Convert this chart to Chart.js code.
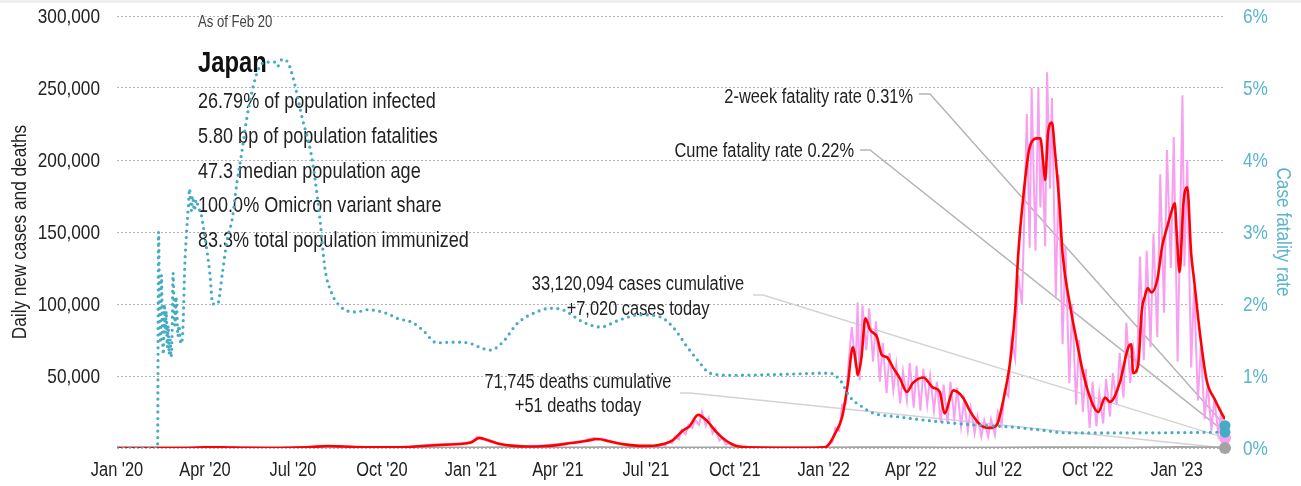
<!DOCTYPE html>
<html>
<head>
<meta charset="utf-8">
<script src="https://cdn.jsdelivr.net/npm/chart.js@4.4.1/dist/chart.umd.min.js"></script>
<style>
  html, body { margin: 0; padding: 0; background: #fff; }
  #wrap { width: 1301px; height: 486px; position: relative; }
</style>
</head>
<body>
<div id="wrap"><canvas id="covid" width="1301" height="486"></canvas></div>
<script>
// days are counted from Jan 1 2020
var lastDay = 1146;
var tickDays = [0, 91, 182, 274, 366, 456, 547, 639, 731, 821, 912, 1004, 1096];
var tickLabels = ["Jan '20", "Apr '20", "Jul '20", "Oct '20", "Jan '21", "Apr '21", "Jul '21", "Oct '21", "Jan '22", "Apr '22", "Jul '22", "Oct '22", "Jan '23"];
var caseTicks = [0, 50000, 100000, 150000, 200000, 250000, 300000];
var rateTicks = [0, 1, 2, 3, 4, 5, 6];

// daily reported cases
var dailyDays = [0, 60, 98, 110, 150, 200, 214, 221, 260, 300, 330, 355, 368, 372, 378, 384, 395, 425, 460, 480, 494, 497, 501, 525, 545, 560,
  563, 567, 570, 574, 577, 581, 584, 588, 591, 595, 598, 602, 605, 609, 612, 616, 619, 623, 626, 630, 633, 637, 644, 660, 700, 725, 730,
  733, 736, 740, 743, 747, 750, 754, 757, 760, 764, 766, 768, 771, 775, 778, 782, 785, 789, 792, 796, 799, 803, 806, 810, 813, 817, 820,
  824, 827, 831, 834, 838, 841, 845, 848, 852, 855, 859, 862, 866, 869, 873, 876, 880, 883, 887, 890, 894, 897, 901, 904, 908, 911,
  915, 918, 922, 925, 929, 932, 936, 939, 941, 944, 946, 950, 953, 955, 957, 960, 962, 965, 967, 971, 974, 978, 981, 985, 988, 992, 995,
  999, 1002, 1006, 1009, 1013, 1016, 1020, 1023, 1027, 1030, 1034, 1037, 1041, 1044, 1048, 1051, 1055, 1058, 1062, 1065, 1069, 1072,
  1076, 1079, 1083, 1086, 1090, 1093, 1097, 1102, 1104, 1107, 1111, 1114, 1118, 1121, 1125, 1128, 1132, 1135, 1139, 1142, 1146];
var dailyCases = [0, 20, 700, 300, 60, 700, 1600, 1100, 500, 700, 2600, 3200, 4500, 7800, 5900, 6100, 2600, 1000, 2800, 4700, 7100, 5600, 6500, 2200, 1400, 1300,
  2300, 1600, 4200, 3300, 7800, 6000, 12500, 9500, 16000, 14000, 19500, 16000, 25000, 15500, 21000, 10000, 13500, 5200, 7000, 2300, 3500, 1000, 700, 200, 180, 300, 500,
  400, 2500, 4000, 14000, 12000, 30000, 31000, 62000, 84000, 56000, 101000, 47000, 99000, 68000, 97000, 60000, 88000, 46000, 73000, 38000, 66000, 40000, 58000, 31000, 53000, 33000, 59000,
  28000, 57000, 26000, 55000, 30000, 50000, 26000, 46000, 18000, 44000, 17000, 46000, 21000, 42000, 15000, 33000, 12000, 28000, 10000, 22000, 8000, 19000, 8000, 20000, 9000, 25000,
  16000, 40000, 36000, 76000, 62000, 120000, 100000, 175000, 232000, 139000, 250000, 137000, 250000, 167000, 205000, 140000, 261000, 180000, 243000, 105000, 190000, 72000, 140000, 45000, 100000, 30000, 75000,
  25000, 55000, 14000, 46000, 15000, 38000, 17000, 48000, 22000, 52000, 30000, 66000, 35000, 87000, 45000, 70000, 52000, 133000, 61000, 137000, 70000, 149000,
  77000, 190000, 94000, 207000, 125000, 216000, 60000, 245000, 126000, 200000, 56000, 112000, 33000, 70000, 20000, 45000, 12000, 35000, 10000, 25000, 7020];

// 7-day average of new cases
var avgDays = [0, 40, 70, 85, 100, 115, 135, 160, 180, 200, 218, 235, 255, 280, 300, 320, 340, 355, 366, 375, 385, 395, 410, 425, 440, 455, 470, 485, 497, 510,
  525, 540, 555, 565, 575, 585, 592, 601, 610, 620, 630, 640, 650, 665, 680, 700, 720, 731, 734, 743, 750, 756, 761, 765, 766, 770, 774, 779, 786, 791,
  796, 803, 810, 817, 823, 834, 844, 851, 856, 865, 875, 882, 893, 903, 910, 916, 924, 929, 932, 937, 944, 952, 955, 958, 960, 963, 967, 970, 975, 978,
  986, 993, 998, 1004, 1015, 1022, 1027, 1037, 1046, 1049, 1051, 1056, 1060, 1063, 1066, 1070, 1076, 1081, 1086, 1091, 1094, 1096, 1099, 1103, 1107,
  1111, 1114, 1120, 1127, 1136, 1141, 1146];
var avgCases = [0, 5, 40, 300, 560, 350, 60, 40, 200, 600, 1350, 1000, 550, 500, 650, 1600, 2300, 2800, 3800, 7000, 5000, 3000, 1500, 1050, 1200, 2000, 3500, 4800, 6300, 4500,
  2500, 1500, 1600, 2700, 5500, 12000, 15000, 23000, 19000, 11000, 5000, 1600, 600, 250, 150, 150, 220, 450, 900, 10400, 21500, 45000, 70000, 55500, 50700, 63000, 90000, 82000, 77000, 64600,
  63200, 55500, 48000, 39000, 45000, 49000, 42000, 39000, 24000, 40000, 35000, 26000, 16000, 14000, 16000, 31000, 61000, 96000, 133000, 172000, 209000, 215000, 215000, 198000, 186000, 219000, 226000, 207000, 167000, 135000,
  98000, 73000, 56000, 40000, 25000, 35000, 32000, 45000, 70000, 72000, 52000, 57000, 96000, 105000, 111000, 108000, 117000, 140000, 153000, 165000, 170000, 150000, 122000, 170000, 181000,
  135000, 117000, 80000, 47000, 33000, 26000, 20000];

// daily deaths
var deathDays = [0, 60, 100, 130, 200, 230, 300, 375, 400, 420, 470, 500, 540, 600, 620, 660, 731, 770, 800, 860, 920, 960, 1000, 1050, 1080, 1100, 1120, 1146];
var deathCounts = [0, 1, 20, 5, 3, 12, 5, 60, 90, 50, 40, 100, 40, 25, 55, 5, 1, 90, 200, 40, 20, 250, 100, 80, 250, 400, 250, 51];

// cumulative case fatality rate, percent
var cfrDays = [0, 42, 43, 44, 45, 46, 47, 48, 49, 50, 51, 52, 53, 54, 55, 56, 57, 58, 59, 60, 61, 62, 63, 64, 66, 68, 69, 70, 72, 74, 75, 77, 78, 80, 82, 84, 87, 89,
  91, 96, 99, 104, 109, 114, 119, 124, 129, 134, 140, 146, 153, 163, 166, 171, 177, 182, 192, 200, 205, 210, 215, 222, 230, 239, 248, 259, 279, 290, 306, 316,
  331, 345, 355, 366, 375, 386, 399, 414, 434, 448, 461, 482, 500, 520, 541, 562, 575, 590, 603, 613, 634, 680, 737, 748, 758, 771, 781, 810, 853, 887,
  926, 955, 983, 1051, 1146];
var cfrRates = [0, 0, 3.0, 2.0, 1.5, 2.4, 1.6, 1.3, 2.0, 1.6, 1.9, 1.4, 1.7, 1.3, 1.5, 1.26, 1.6, 2.43, 2.0, 1.7, 2.1, 1.9, 1.55, 1.7, 1.45, 1.6, 2.0, 2.5, 3.0, 3.4, 3.6, 3.3, 3.5, 3.3, 3.45, 3.35, 3.25, 3.1,
  2.93, 2.43, 2.0, 2.0, 2.43, 2.9, 3.17, 3.68, 4.1, 4.56, 4.97, 5.25, 5.36, 5.36, 5.3, 5.4, 5.35, 5.15, 4.56, 4.14, 3.72, 3.17, 2.5, 2.15, 1.98, 1.9, 1.89, 1.92, 1.87, 1.8, 1.74, 1.64,
  1.46, 1.47, 1.47, 1.45, 1.40, 1.36, 1.47, 1.73, 1.89, 1.94, 1.92, 1.75, 1.68, 1.78, 1.85, 1.82, 1.68, 1.40, 1.18, 1.04, 1.01, 1.02, 1.04, 0.94, 0.71, 0.57, 0.49, 0.43, 0.36, 0.32,
  0.29, 0.25, 0.21, 0.21, 0.22];

var casesCumulative = 33120094;
var deathsCumulative = 71745;
var casesToday = 7020;
var deathsToday = 51;
var twoWeekRate = 0.31;
var cumeRate = 0.22;

var statLines = [
  '26.79% of population infected',
  '5.80 bp of population fatalities',
  '47.3 median population age',
  '100.0% Omicron variant share',
  '83.3% total population immunized'
];

// no narrow face installed, so text is squeezed horizontally by hand
var FONT = "'Liberation Sans', Arial, sans-serif";
var SQUEEZE = 0.82;
var TEAL = '#46abc5';
var TEAL_TEXT = '#5ab5cc';
var PINK = '#f7a0f0';
var INK = '#222';

function pairs(xs, ys) {
  return xs.map(function(d, i){ return {x: d, y: ys[i]}; });
}
function fmt(n) { return n.toLocaleString('en-US'); }

function narrowText(ctx, text, x, y, opts) {
  ctx.save();
  ctx.translate(x, y);
  if (opts.rotate) ctx.rotate(opts.rotate);
  ctx.scale(SQUEEZE, 1);
  ctx.font = opts.font;
  ctx.fillStyle = opts.color || INK;
  ctx.textAlign = opts.align || 'left';
  ctx.textBaseline = opts.baseline || 'alphabetic';
  ctx.fillText(text, 0, 0);
  ctx.restore();
}

// leader lines and their labels
var notes = [
  {lines: ['2-week fatality rate ' + twoWeekRate.toFixed(2) + '%'], align: 'right', x: 913, base: [103],
   from: [919, 94], bend: 930, axis: 'y2', value: twoWeekRate, color: '#b5b5b5'},
  {lines: ['Cume fatality rate ' + cumeRate.toFixed(2) + '%'], align: 'right', x: 854, base: [157],
   from: [860, 150], bend: 870, axis: 'y2', value: cumeRate, color: '#b5b5b5'},
  {lines: [fmt(casesCumulative) + ' cases cumulative', '+' + fmt(casesToday) + ' cases today'], align: 'center', x: 638, base: [290, 315],
   from: [753, 295], bend: 763, axis: 'y', value: casesToday, color: '#d3d3d3'},
  {lines: [fmt(deathsCumulative) + ' deaths cumulative', '+' + fmt(deathsToday) + ' deaths today'], align: 'center', x: 578, base: [388, 412],
   from: [680, 393], bend: 690, axis: 'y', value: deathsToday, color: '#d3d3d3'}
];

var notesPlugin = {
  id: 'notes',
  beforeDraw: function(chart) {
    var ctx = chart.ctx;
    ctx.save();
    ctx.fillStyle = '#efefef';
    ctx.fillRect(0, 0, chart.width, 3);
    ctx.restore();
  },
  beforeDatasetsDraw: function(chart) {
    var ctx = chart.ctx;
    var sx = chart.scales.x, sy = chart.scales.y, sr = chart.scales.y2;
    var endX = sx.getPixelForValue(lastDay);
    var area = chart.chartArea;
    var midY = (area.top + area.bottom) / 2;

    // axis labels
    caseTicks.forEach(function(v){
      if (v === 0) return;
      narrowText(ctx, fmt(v), 100, sy.getPixelForValue(v) + 1, {font: '21px ' + FONT, align: 'right', baseline: 'middle'});
    });
    rateTicks.forEach(function(v){
      narrowText(ctx, v + '%', 1243, sr.getPixelForValue(v) + 1, {font: '21px ' + FONT, align: 'left', baseline: 'middle', color: TEAL_TEXT});
    });
    tickDays.forEach(function(d, i){
      narrowText(ctx, tickLabels[i], sx.getPixelForValue(d), 470, {font: '20px ' + FONT, align: 'center', baseline: 'middle'});
    });
    narrowText(ctx, 'Daily new cases and deaths', 20, midY, {font: '21px ' + FONT, align: 'center', baseline: 'middle', rotate: -Math.PI / 2});
    narrowText(ctx, 'Case fatality rate', 1283, midY, {font: '21px ' + FONT, align: 'center', baseline: 'middle', rotate: Math.PI / 2, color: TEAL_TEXT});

    // header block
    narrowText(ctx, 'As of Feb 20', 198, 27, {font: '16px ' + FONT, color: '#444'});
    narrowText(ctx, 'Japan', 198, 72, {font: 'bold 29px ' + FONT, color: '#111'});
    statLines.forEach(function(t, i){
      narrowText(ctx, t, 198, 108 + i * 34.8, {font: '22px ' + FONT});
    });

    // leader lines
    ctx.save();
    notes.forEach(function(n){
      var endY = chart.scales[n.axis].getPixelForValue(n.value);
      ctx.strokeStyle = n.color;
      ctx.lineWidth = 1.5;
      ctx.beginPath();
      ctx.moveTo(n.from[0], n.from[1]);
      ctx.lineTo(n.bend, n.from[1]);
      ctx.lineTo(endX, endY);
      ctx.stroke();
      n.lines.forEach(function(t, i){
        narrowText(ctx, t, n.x, n.base[i], {font: '20px ' + FONT, align: n.align});
      });
    });
    ctx.restore();
  }
};

Chart.defaults.font.family = FONT;

new Chart(document.getElementById('covid'), {
  type: 'line',
  data: {
    datasets: [
      {label: 'Deaths today', data: [{x: lastDay, y: deathsToday}], yAxisID: 'y', showLine: false, clip: false,
       pointRadius: 6, pointBackgroundColor: '#a3a3a3', pointBorderWidth: 0, order: 0},
      {label: 'Fatality rates', data: [{x: lastDay, y: twoWeekRate}, {x: lastDay, y: cumeRate}], yAxisID: 'y2', showLine: false, clip: false,
       pointRadius: 5.5, pointBackgroundColor: TEAL, pointBorderWidth: 0, order: 0},
      {label: 'Cases today', data: [{x: lastDay, y: casesToday}], yAxisID: 'y', showLine: false, clip: false,
       pointRadius: 6, pointBackgroundColor: PINK, pointBorderWidth: 0, order: 1},
      {label: 'Case fatality rate', data: pairs(cfrDays, cfrRates), yAxisID: 'y2',
       borderColor: TEAL, borderWidth: 3.2, borderDash: [0, 6.4], borderCapStyle: 'round',
       cubicInterpolationMode: 'monotone', pointRadius: 0, order: 2},
      {label: '7-day average', data: pairs(avgDays, avgCases), yAxisID: 'y',
       borderColor: '#ff0000', borderWidth: 2.6, cubicInterpolationMode: 'monotone', pointRadius: 0, order: 3},
      {label: 'Daily deaths', data: pairs(deathDays, deathCounts), yAxisID: 'y',
       borderColor: '#a3a3a3', borderWidth: 3, pointRadius: 0, order: 4},
      {label: 'Daily cases', data: pairs(dailyDays, dailyCases), yAxisID: 'y',
       borderColor: PINK, borderWidth: 2, tension: 0, pointRadius: 0, order: 5}
    ]
  },
  options: {
    responsive: false,
    animation: false,
    layout: {padding: {top: 16, left: 0, right: 0, bottom: 0}},
    plugins: {legend: {display: false}, tooltip: {enabled: false}},
    scales: {
      x: {
        type: 'linear', min: 0, max: lastDay,
        afterBuildTicks: function(scale){ scale.ticks = tickDays.map(function(d){ return {value: d}; }); },
        ticks: {display: false},
        grid: {display: false, drawTicks: false},
        border: {display: false},
        afterFit: function(s){ s.height = 38; }
      },
      y: {
        position: 'left', min: 0, max: 300000,
        afterBuildTicks: function(scale){ scale.ticks = caseTicks.map(function(v){ return {value: v}; }); },
        ticks: {display: false},
        grid: {color: '#b3b3b3', lineWidth: 1, drawTicks: false},
        border: {display: false, dash: [2, 2]},
        afterFit: function(s){ s.width = 117; }
      },
      y2: {
        position: 'right', min: 0, max: 6,
        afterBuildTicks: function(scale){ scale.ticks = rateTicks.map(function(v){ return {value: v}; }); },
        ticks: {display: false},
        grid: {display: false, drawTicks: false},
        border: {display: false},
        afterFit: function(s){ s.width = 76; }
      }
    }
  },
  plugins: [notesPlugin]
});
</script>
</body>
</html>
